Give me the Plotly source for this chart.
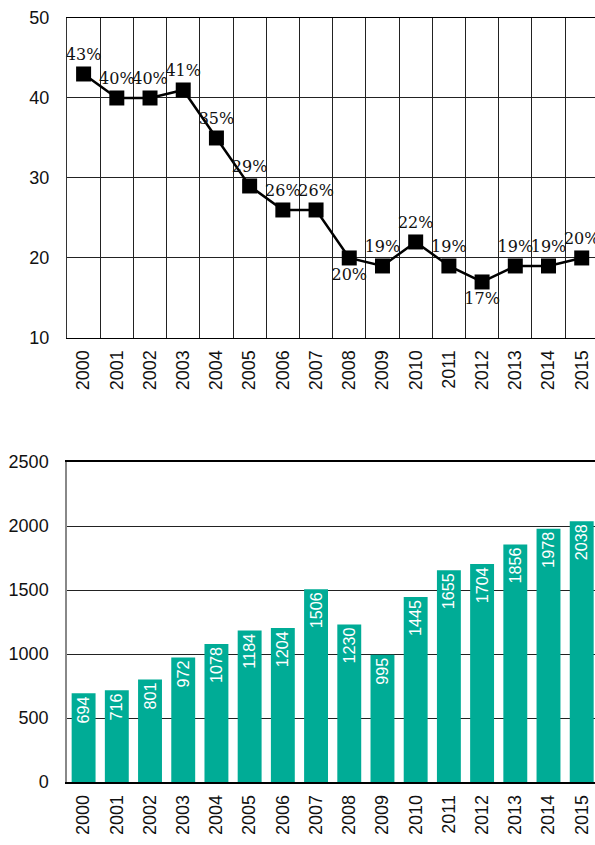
import plotly.graph_objects as go

years = [str(y) for y in range(2000, 2016)]
share_pct = [43, 40, 40, 41, 35, 29, 26, 26, 20, 19, 22, 19, 17, 19, 19, 20]
counts = [694, 716, 801, 972, 1078, 1184, 1204, 1506, 1230, 995, 1445, 1655, 1704, 1856, 1978, 2038]
label_pos = ["top center"] * 16
label_pos[8] = "bottom center"
label_pos[12] = "bottom center"

x = list(range(len(years)))
teal = "#00AC96"

fig = go.Figure()
fig.add_trace(go.Scatter(
    x=x, y=share_pct, mode="lines+markers+text",
    text=[f"{v}%" for v in share_pct], textposition=label_pos,
    textfont=dict(family="DejaVu Serif", size=16, color="#111"),
    line=dict(color="black", width=2.5),
    marker=dict(symbol="square", size=15, color="black"),
    xaxis="x", yaxis="y", cliponaxis=False, showlegend=False,
))
fig.add_trace(go.Bar(
    x=x, y=counts, text=[str(v) for v in counts],
    textposition="inside", insidetextanchor="end", textangle=-90,
    textfont=dict(family="Liberation Sans", size=19, color="white"),
    marker=dict(color=teal, line=dict(width=0)), width=0.72,
    xaxis="x2", yaxis="y2", showlegend=False,
))

bounds = [i - 0.5 for i in range(len(years) + 1)]
xr = [-0.5, 15.4]
tickfont = dict(family="Liberation Sans", size=18, color="#111")

fig.update_layout(
    width=595, height=845,
    margin=dict(l=67, r=0, t=18, b=63),
    paper_bgcolor="white", plot_bgcolor="white",
    font=dict(family="Liberation Sans"),
    xaxis=dict(domain=[0, 1], range=xr, tickvals=x, ticktext=years, tickangle=-90,
               tickfont=tickfont, showgrid=False, zeroline=False, ticks="",
               ticklabelstandoff=4,
               showline=True, linecolor="black", linewidth=1, mirror=True,
               minor=dict(tickvals=bounds, showgrid=True, gridcolor="#222", gridwidth=1, ticks=""),
               anchor="y"),
    yaxis=dict(domain=[0.5812, 1], range=[10, 50], dtick=10, tickfont=tickfont,
               showgrid=True, gridcolor="#222", gridwidth=1, zeroline=False, ticks="",
               showline=True, linecolor="#333", linewidth=1,
               ticklabelstandoff=13, anchor="x"),
    xaxis2=dict(domain=[0, 1], range=xr, tickvals=x, ticktext=years, tickangle=-90,
                tickfont=tickfont, showgrid=False, zeroline=False, ticks="",
                ticklabelstandoff=4,
                showline=True, linecolor="black", linewidth=1.5, mirror=True, anchor="y2"),
    yaxis2=dict(domain=[0, 0.4188], range=[0, 2500], dtick=500, tickfont=tickfont,
                showgrid=True, gridcolor="#222", gridwidth=1, zeroline=False, ticks="",
                ticklabelstandoff=13,
                showline=True, linecolor="#888", linewidth=1.5, anchor="x2"),
)

fig.write_html("out.html", config={"displayModeBar": False},
               post_script="document.body.style.margin='0';document.body.style.overflow='hidden';")
